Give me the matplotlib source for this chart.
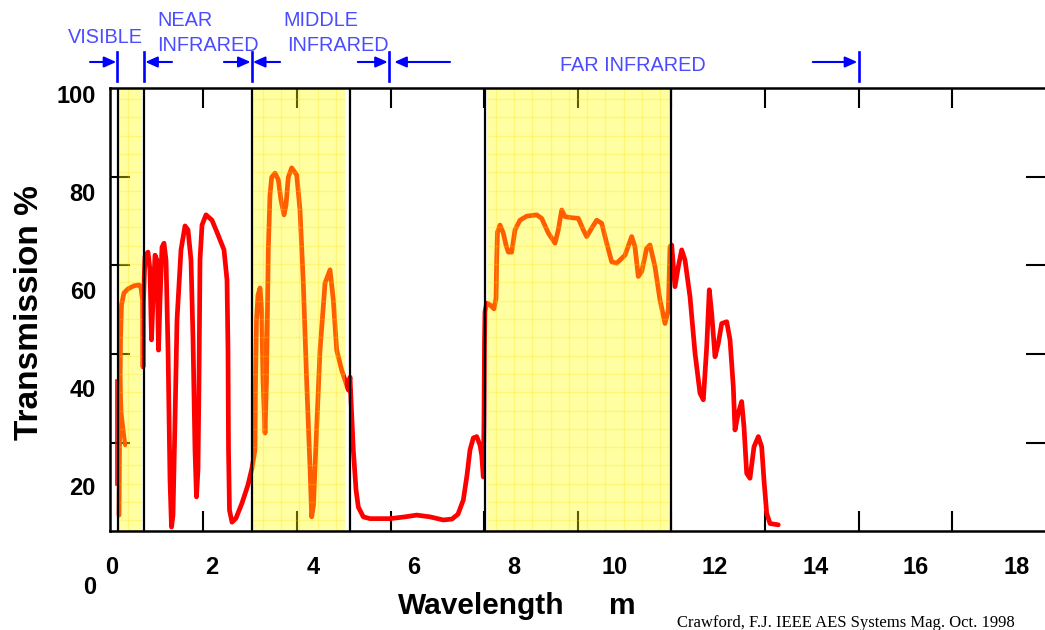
import numpy as np
import matplotlib
matplotlib.use("Agg")
import matplotlib.pyplot as plt
from matplotlib.transforms import blended_transform_factory

plt.rcParams['font.family'] = 'Liberation Sans'

# atmospheric transmission (%) against wavelength (micrometres)
wavelength = [
    0.199, 0.209, 0.22, 0.231, 0.252, 0.305, 0.391, 0.519, 0.626, 0.669,
    0.701, 0.711, 0.722, 0.754, 0.818, 0.861, 0.893, 0.925, 0.968, 1.01,
    1.043, 1.075, 1.117, 1.16, 1.203, 1.246, 1.288, 1.32, 1.352, 1.395,
    1.438, 1.523, 1.609, 1.673, 1.737, 1.78, 1.822, 1.854, 1.886, 1.908,
    1.929, 1.972, 2.057, 2.185, 2.314, 2.442, 2.506, 2.527, 2.538, 2.559,
    2.613, 2.698, 2.826, 2.954, 3.04,
    3.104, 3.115, 3.136, 3.168, 3.211, 3.247, 3.275, 3.318, 3.35, 3.388,
    3.424, 3.461, 3.531, 3.602, 3.66, 3.724, 3.766, 3.815, 3.888, 3.995,
    4.065, 4.136, 4.209, 4.279, 4.315, 4.354, 4.386, 4.493, 4.6, 4.707,
    4.777, 4.849, 4.956, 5.097, 5.134, 5.155, 5.204, 5.262, 5.311, 5.418,
    5.561, 5.988, 6.308, 6.558, 6.842, 7.127, 7.312, 7.44, 7.554, 7.633,
    7.697, 7.768, 7.84, 7.91, 7.947, 7.981, 7.996, 8.007, 8.017, 8.054,
    8.124, 8.21, 8.253, 8.267, 8.284, 8.338, 8.408, 8.466, 8.515, 8.588,
    8.658, 8.765, 8.908, 9.122, 9.229, 9.37, 9.513, 9.583, 9.656, 9.727,
    9.834, 10.011, 10.118, 10.19, 10.297, 10.404, 10.51, 10.617, 10.724, 10.831,
    11.008, 11.151, 11.221, 11.292, 11.365, 11.472, 11.542, 11.649, 11.756, 11.863,
    11.933, 11.969, 12.006, 12.076, 12.147, 12.219, 12.29, 12.397, 12.504, 12.61,
    12.681, 12.754, 12.809, 12.86, 12.931, 13.001, 13.074, 13.181, 13.252, 13.322,
    13.358, 13.428, 13.501, 13.55, 13.608, 13.678, 13.764, 13.856, 13.928, 13.977,
    14.035, 14.106, 14.283]
transmission = [
    3.7, 18.4, 29.7, 43.2, 51.1, 53.8, 54.7, 55.4, 55.6, 54.9,
    52.2, 37.1, 52.2, 62.1, 63.0, 58.9, 43.2, 52.2, 62.3, 61.2,
    40.9, 52.2, 64.1, 65.0, 61.2, 40.9, 11.6, 1.0, 3.7, 25.1,
    47.7, 63.5, 68.9, 68.0, 61.2, 43.2, 18.4, 7.8, 13.9, 34.2,
    61.2, 69.1, 71.4, 70.2, 66.9, 63.5, 56.7, 40.9, 18.4, 4.8,
    2.1, 3.0, 6.4, 10.5, 14.3,
    18.4, 34.2, 47.7, 53.3, 54.9, 49.9, 34.2, 22.2, 34.2, 63.5,
    75.9, 79.9, 80.8, 79.3, 74.7, 71.4, 73.6, 79.9, 82.0, 80.4,
    72.5, 56.0, 33.5, 14.5, 3.3, 6.0, 14.5, 40.9, 56.0, 59.0,
    52.2, 40.9, 36.4, 31.9, 34.8, 29.6, 18.4, 9.4, 5.5, 3.3,
    2.9, 2.9, 3.3, 3.7, 3.3, 2.6, 2.8, 3.9, 7.1, 12.7,
    18.4, 21.1, 21.4, 19.5, 17.2, 12.3, 25.1, 43.2, 49.5, 51.5,
    51.1, 50.2, 52.6, 61.2, 67.5, 69.1, 67.3, 64.6, 63.0, 63.0,
    68.0, 70.2, 71.1, 71.4, 70.6, 67.3, 65.0, 68.0, 72.5, 71.0,
    70.8, 70.6, 68.0, 66.5, 68.4, 70.2, 69.5, 65.0, 60.8, 60.5,
    62.3, 66.5, 64.2, 57.5, 58.6, 63.9, 64.6, 59.7, 52.2, 46.9,
    49.9, 64.2, 64.6, 55.2, 59.7, 63.5, 61.2, 52.9, 40.2, 31.2,
    29.7, 41.7, 54.5, 49.2, 39.4, 42.4, 46.9, 47.3, 43.2, 32.6,
    22.9, 26.7, 29.3, 23.6, 13.1, 12.0, 19.1, 21.4, 19.1, 11.6,
    4.1, 1.8, 1.5]

# short traces at the blue end of the visible
uv_edge_wl = [0.14, 0.14]
uv_edge_tr = [34.2, 10.5]
blue_dip_wl = [0.22, 0.25, 0.29, 0.33]
blue_dip_tr = [35.0, 26.7, 22.9, 19.5]

# shaded windows and the black dividers
windows = [(0.2, 0.69), (3.07, 5.03), (8.05, 11.97)]
dividers = [0.18, 0.73, 3.04, 5.14, 8.01, 12.0]

# band markers above the plot
band_edges = [0.16, 0.73, 3.03, 5.97, 16.0]
arrow_tails = [-0.42, 1.33, 2.44, 3.64, 5.30, 7.27, 15.02]
arrow_heads = [0.14, 0.76, 3.01, 3.06, 5.94, 6.08, 15.97]
band_names = ['VISIBLE', 'NEAR', 'INFRARED', 'MIDDLE', 'INFRARED', 'FAR INFRARED']
band_name_x = [-0.89, 1.01, 1.01, 3.70, 3.79, 9.62]
band_name_y = [0.9313, 0.9587, 0.9195, 0.9587, 0.9195, 0.8878]

x_tick_marks = [2, 4, 6, 8, 10, 12, 14, 16, 18]
y_tick_marks = [20, 40, 60, 80]
x_tick_text = [0, 2, 4, 6, 8, 10, 12, 14, 16, 18]
y_tick_text = [0, 20, 40, 60, 80, 100]

fig = plt.figure(figsize=(10.45, 6.3), dpi=100)
ax = fig.add_axes([0.10498, 0.15635, 0.89589, 0.70397])
ax.set_xlim(0, 20)
ax.set_ylim(0, 100)

ax.plot(wavelength, transmission, color='red', lw=3.4,
        solid_joinstyle='round', solid_capstyle='round', zorder=2)
ax.plot(uv_edge_wl, uv_edge_tr, color='red', lw=1.2, zorder=2)
ax.plot(blue_dip_wl, blue_dip_tr, color='red', lw=3.0,
        solid_capstyle='round', zorder=2)

# translucent yellow over the curve turns it orange inside the windows
for a, b in windows:
    ax.axvspan(a, b, color=(1, 1, 0), alpha=0.37, lw=0, zorder=3)
    ax.vlines(np.arange(a + 0.2, b, 0.39), 0, 100, color='#ffd800',
              alpha=0.25, lw=1, zorder=3.1)
    ax.hlines(np.arange(2.5, 100, 4.13), a, b, color='#ffd800',
              alpha=0.25, lw=1, zorder=3.1)
for x in dividers:
    ax.axvline(x, color='black', lw=1.6, zorder=4)

ax.set_xticks(x_tick_marks)
ax.set_yticks(y_tick_marks)
ax.tick_params(direction='in', length=14.5, width=1.5, top=True, right=True,
               labelbottom=False, labelleft=False, color='black')
for s in ax.spines.values():
    s.set_linewidth(1.8)
    s.set_zorder(5)
ax.spines['right'].set_visible(False)

# the printed numbers sit on their own, slightly wider scale
for v in x_tick_text:
    ax.text(0.043 + 1.0735 * v, -9.6, str(v), ha='center', va='baseline',
            fontsize=17, fontweight='bold')
for v in y_tick_text:
    ax.text(-0.293, -13.98 + 1.105 * v, str(v), ha='right', va='baseline',
            fontsize=17, fontweight='bold')

trans = blended_transform_factory(ax.transData, fig.transFigure)
for x in band_edges:
    ax.plot([x, x], [0.8714, 0.9175], transform=trans, color='blue', lw=1.9,
            clip_on=False)
for t, h in zip(arrow_tails, arrow_heads):
    ax.annotate('', xy=(h, 0.9016), xytext=(t, 0.9016), xycoords=trans,
                textcoords=trans, annotation_clip=False,
                arrowprops=dict(arrowstyle='-|>,head_length=0.72,head_width=0.32',
                                mutation_scale=10, color='blue', lw=1.5,
                                shrinkA=0, shrinkB=0))
for name, x, y in zip(band_names, band_name_x, band_name_y):
    ax.text(x, y, name, transform=trans, color='#4b4bff', fontsize=14.3,
            ha='left', va='baseline')

fig.text(0.0278, 1 - 313 / 630, 'Transmission %', rotation=90, ha='center',
         va='center', fontsize=24, fontweight='bold')
fig.text(0.3809, 0.0254, 'Wavelength', ha='left', va='baseline',
         fontsize=21.5, fontweight='bold')
fig.text(0.5952, 0.0254, 'm', ha='center', va='baseline',
         fontsize=21.5, fontweight='bold')
fig.text(0.6478, 0.0048, 'Crawford, F.J. IEEE AES Systems Mag. Oct. 1998',
         ha='left', va='baseline', fontsize=12, family='Liberation Serif')

fig.savefig('out.png', dpi=100)
